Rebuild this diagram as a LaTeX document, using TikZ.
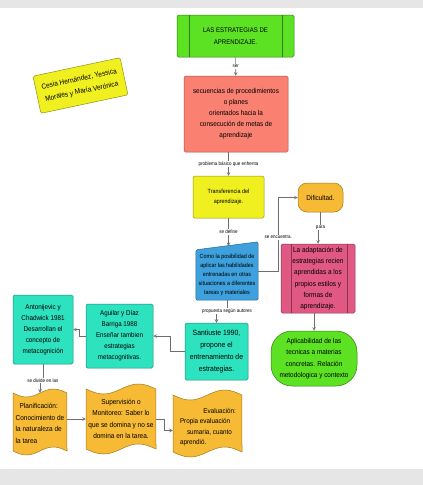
\documentclass[tikz,border=0pt]{standalone}
\usepackage{fontspec}
\setmainfont{Liberation Sans}[FakeStretch=0.9]

\definecolor{bargray}{RGB}{230,230,230}
\definecolor{linegray}{RGB}{110,110,110}
\definecolor{titlegreen}{RGB}{92,226,34}
\definecolor{salmon}{RGB}{250,128,114}
\definecolor{boxyellow}{RGB}{240,240,32}
\definecolor{bluebox}{RGB}{62,160,220}
\definecolor{teal}{RGB}{45,226,190}
\definecolor{pinkbox}{RGB}{226,88,132}
\definecolor{tapeorange}{RGB}{246,186,52}

\newcommand{\fs}[2]{\fontsize{#1}{#2}\selectfont}

\tikzset{
  box/.style={rounded corners=1.5pt, inner sep=1pt, align=center, line width=0.5pt},
  conn/.style={draw=linegray, line width=0.6pt, -stealth},
  lbl/.style={fill=white, inner sep=0.8pt, font=\fs{5}{6}},
  tape/.style={fill=tapeorange, draw=tapeorange!65!black, line width=0.5pt},
}

\begin{document}
\begin{tikzpicture}[x=1pt,y=-1pt]
\useasboundingbox (0,0) rectangle (423,485);

% Gray bars
\fill[bargray] (0,0) rectangle (423,8);
\fill[bargray] (0,469) rectangle (423,485);

% Authors
\node[box, fill=boxyellow, draw=boxyellow!60!black, rotate=12, minimum width=89pt, minimum height=38pt, font=\fs{7.3}{12.5}] (authors) at (80.5,85.5) {Cesia Hernández, Yessica\\Morales y María Verónica};

% Title
\node[box, fill=titlegreen, draw=titlegreen!55!black, minimum width=117pt, minimum height=42pt, font=\fs{6.7}{12}] (title) at (235.5,36) {LAS ESTRATEGIAS DE\\APRENDIZAJE.};
\draw[titlegreen!55!black, line width=0.5pt] ([xshift=12pt]title.north west) -- ([xshift=12pt]title.south west);
\draw[titlegreen!55!black, line width=0.5pt] ([xshift=-12pt]title.north east) -- ([xshift=-12pt]title.south east);

% Main column
\node[box, fill=salmon, draw=salmon!65!black, minimum width=104pt, minimum height=76pt, font=\fs{7.1}{11}] (seq) at (236,114) {secuencias de procedimientos\\o planes\\orientados hacia la\\consecución de metas de\\aprendizaje};
\node[box, fill=boxyellow, draw=boxyellow!60!black, minimum width=71pt, minimum height=42pt, font=\fs{6}{10}] (transf) at (228.5,197) {Transferencia del\\aprendizaje.};

% Manual input shape
\node[minimum width=62pt, minimum height=58pt, inner sep=0pt] (blue) at (227,271) {};
\filldraw[fill=bluebox, draw=bluebox!65!black, line width=0.5pt, rounded corners=1.5pt] (blue.south west) -- (blue.south east) -- (blue.north east) -- ([yshift=-8pt]blue.north west) -- cycle;
\node[align=center, inner sep=0pt, font=\fs{6}{9}] (bluetxt) at (227,275) {Como la posibilidad de\\aplicar las habilidades\\entrenadas en otras\\situaciones a diferentes\\tareas y materiales};
\coordinate (bluein) at (228.5,246);

\node[box, fill=teal, draw=teal!60!black, minimum width=63pt, minimum height=57pt, font=\fs{7.6}{12}] (santi) at (216.5,351.5) {Santiuste 1990,\\propone el\\entrenamiento de\\estrategias.};
\node[box, fill=teal, draw=teal!60!black, minimum width=67pt, minimum height=64pt, font=\fs{6.9}{11}] (agui) at (119.5,336) {Aguilar y Díaz\\Barriga 1988\\Enseñar tambien\\estrategias\\metacognitivas.};
\node[box, fill=teal, draw=teal!60!black, minimum width=60pt, minimum height=69pt, font=\fs{7}{11}] (anto) at (43,329.5) {Antonijevic y\\Chadwick 1981\\Desarrollan el\\concepto de\\metacognición};

% Right column
\node[box, rounded corners=9pt, fill=tapeorange, draw=tapeorange!65!black, minimum width=45pt, minimum height=29pt, font=\fs{7.1}{9}] (dif) at (320.5,197.5) {Dificultad.};
\node[box, fill=pinkbox, draw=pinkbox!60!black, minimum width=74pt, minimum height=69pt, font=\fs{7.2}{11.3}] (pink) at (318,278.5) {La adaptación de\\estrategias recien\\aprendidas a los\\propios estilos y\\formas de\\aprendizaje.};
\draw[pinkbox!60!black, line width=0.5pt] ([xshift=10pt]pink.north west) -- ([xshift=10pt]pink.south west);
\draw[pinkbox!60!black, line width=0.5pt] ([xshift=-8pt]pink.north east) -- ([xshift=-8pt]pink.south east);
\node[box, rounded corners=21pt, fill=titlegreen, draw=titlegreen!55!black, minimum width=86pt, minimum height=55pt, font=\fs{7.1}{11.5}] (apli) at (314,358.5) {Aplicabilidad de las\\tecnicas a materias\\concretas. Relación\\metodologica y contexto};

% Punched tapes
\filldraw[tape] plot[smooth, domain=0:1, samples=25] ({13+54*\x},{393+4*sin(360*\x)}) -- plot[smooth, domain=1:0, samples=25] ({13+54*\x},{451+4*sin(360*\x)}) -- cycle;
\filldraw[tape] plot[smooth, domain=0:1, samples=25] ({86+70*\x},{389+5*sin(360*\x)}) -- plot[smooth, domain=1:0, samples=25] ({86+70*\x},{449+5*sin(360*\x)}) -- cycle;
\filldraw[tape] plot[smooth, domain=0:1, samples=25] ({173+69*\x},{395+5*sin(360*\x)}) -- plot[smooth, domain=1:0, samples=25] ({173+69*\x},{452+5*sin(360*\x)}) -- cycle;
\node[minimum width=54pt, minimum height=58pt, inner sep=0pt] (plan) at (40,422) {};
\node[align=left, inner sep=0pt, font=\fs{7.2}{11.7}] (plantxt) at (40,423.5) {\hspace*{4pt}Planificación:\\Conocimiento de\\la naturaleza de\\la tarea};
\node[minimum width=70pt, minimum height=60pt, inner sep=0pt, align=center, font=\fs{7.2}{11.3}] (sup) at (121,419) {Supervisión o\\Monitoreo: Saber lo\\que se domina y no se\\domina en la tarea.};
\node[minimum width=69pt, minimum height=57pt, inner sep=0pt] (eval) at (207.5,423.5) {};
\node[text width=56pt, align=flush left, inner sep=0pt, font=\fs{7}{10.3}] (evaltxt) at (208,427) {\null\hfill Evaluación:\\Propia evaluación\\\hspace*{7pt}sumaria, cuanto\\aprendió.};

% Connectors
\draw[conn] (title) -- node[lbl] (l1) {ser} (seq);
\draw[conn] (transf.north |- seq.south) -- node[lbl] (l2) {problema básico que enfrenta} (transf.north);
\draw[conn] (transf.south) -- node[lbl] (l3) {se define} (bluein);
\draw[conn] (blue.south) -- ++(0,11) -| node[lbl, pos=0] (l4) {propuesta según autores} (santi.north);
\draw[conn] (santi.west) -- ++(-14,0) |- (agui.east);
\draw[conn] (agui.west) -- ++(-6,0) |- (anto.east);
\draw[conn] (anto.south) -- ++(0,16) -| node[lbl, pos=0] (l5) {se divide en las} (plan.north);
\draw[conn] (plan.east |- sup.west) -- (sup.west);
\draw[conn] (sup.east) -- ++(8,0) |- ([yshift=-7pt]eval.west);
\draw[conn] (blue.east) -- ++(20,0) |- node[lbl, pos=0.23] (l6) {se encuentra.} (dif.west);
\draw[conn] (dif.south) -- ++(0,15) -| node[lbl, pos=0] (l7) {para} (pink.north);
\draw[conn] (apli.north |- pink.south) -- (apli.north);

\end{tikzpicture}
\end{document}
